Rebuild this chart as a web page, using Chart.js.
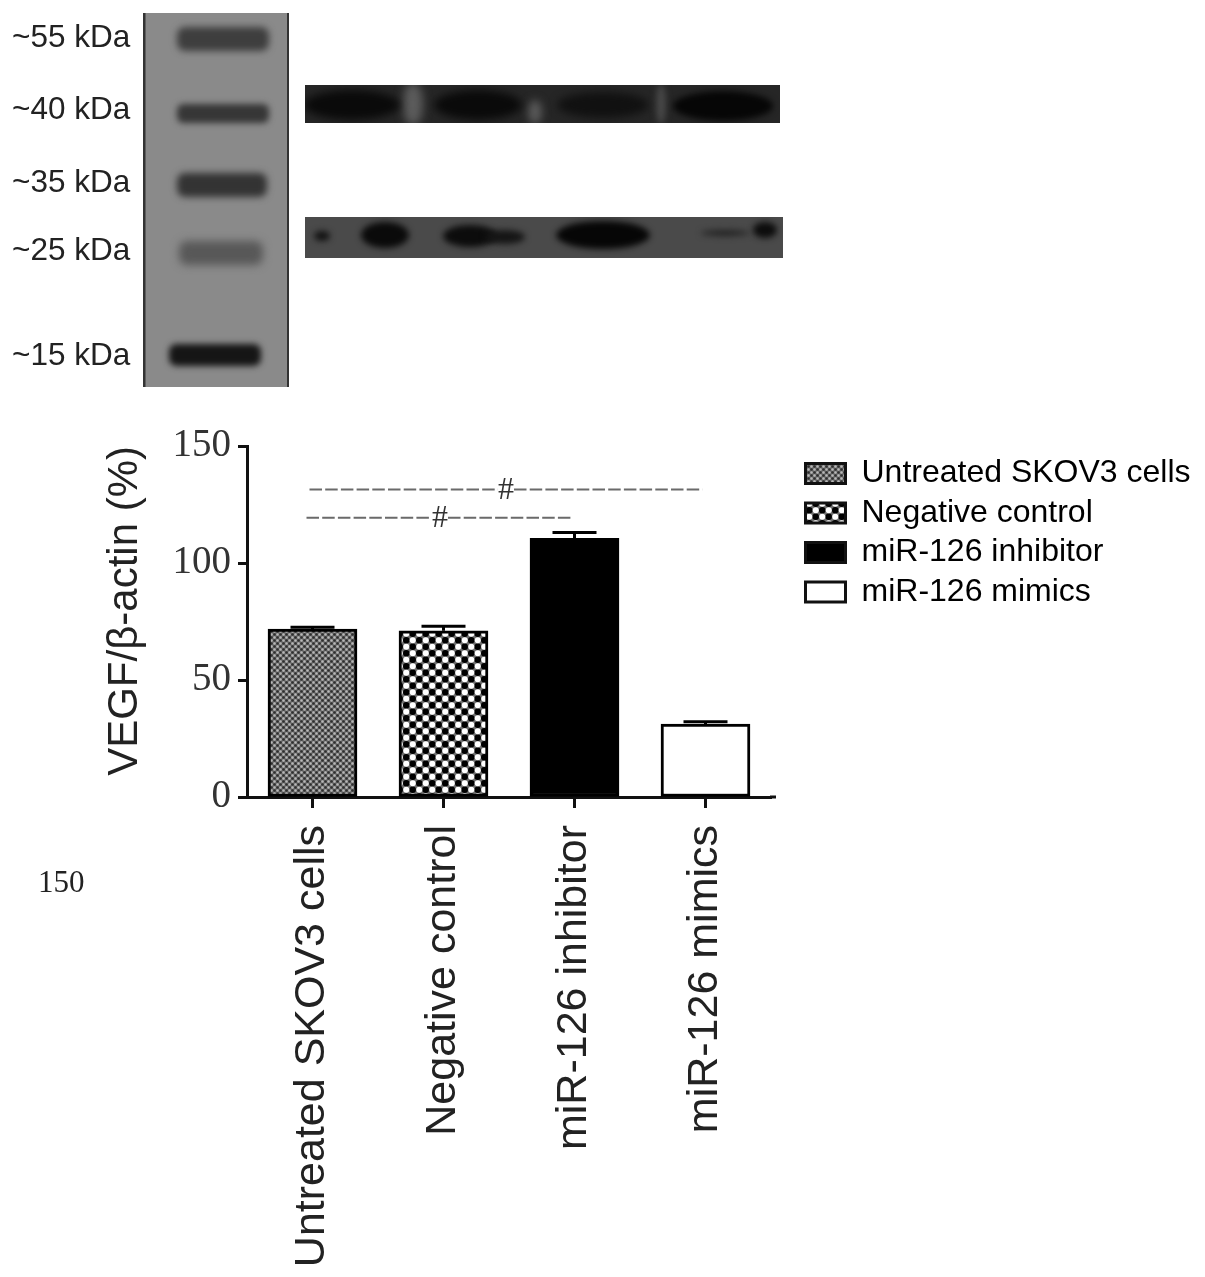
<!DOCTYPE html>
<html>
<head>
<meta charset="utf-8">
<title>VEGF western blot</title>
<script src="https://cdn.jsdelivr.net/npm/chart.js@4"></script>
<style>
  html, body { margin: 0; padding: 0; background: #fff; }
  #stage { position: relative; width: 1205px; height: 1277px; overflow: hidden; filter: blur(0.5px); }
  #stage canvas { position: absolute; left: 0; top: 0; }
  .note { position: absolute; color: #222; white-space: nowrap; line-height: 1; transform: translateY(-50%); }
  .kda { font: 31.5px "Liberation Sans", sans-serif; left: 12px; }
  .stray { font: 31px "Liberation Serif", serif; left: 38px; top: 882px; }
</style>
</head>
<body>
<div id="stage">
  <canvas id="blot" width="800" height="400"></canvas>
  <canvas id="chart" width="1205" height="1277"></canvas>
  <div class="note stray">150</div>
</div>
<script>
const categories = ['Untreated SKOV3 cells', 'Negative control', 'miR-126 inhibitor', 'miR-126 mimics'];
const means = [71.8, 71, 110.5, 31.2];
const errorTops = [72.5, 73, 113, 32.2];
const yTicks = [0, 50, 100, 150];
const sigLevels = [131.4, 119.3];
const sigFrom = [0, 0];
const sigTo = [3, 2];
const markerLabels = ['~55 kDa', '~40 kDa', '~35 kDa', '~25 kDa', '~15 kDa'];
const markerY = [36, 108, 181, 249, 354];

// --- fill patterns for the bars ---
function tile(size, paint) {
  const c = document.createElement('canvas');
  c.width = c.height = size;
  paint(c.getContext('2d'));
  return c.getContext('2d').createPattern(c, 'repeat');
}
function dot(g, x, y, r, col) {
  g.fillStyle = col;
  g.beginPath();
  g.arc(x, y, r, 0, Math.PI * 2);
  g.fill();
}
const finePattern = tile(6, g => {
  g.fillStyle = '#6e6e6e';
  g.fillRect(0, 0, 6, 6);
  dot(g, 1.5, 1.5, 1.3, '#2e2e2e');
  dot(g, 4.5, 4.5, 1.3, '#2e2e2e');
  dot(g, 4.5, 1.5, 1.2, '#b8b8b8');
  dot(g, 1.5, 4.5, 1.2, '#b8b8b8');
});
const coarsePattern = tile(13, g => {
  g.fillStyle = '#707070';
  g.fillRect(0, 0, 13, 13);
  dot(g, 3.25, 3.25, 3.2, '#000');
  dot(g, 9.75, 9.75, 3.2, '#000');
  dot(g, 9.75, 3.25, 3, '#fff');
  dot(g, 3.25, 9.75, 3, '#fff');
});
const barFills = [finePattern, coarsePattern, '#000', '#fff'];

// --- western blot panels ---
function drawBlot() {
  const g = document.getElementById('blot').getContext('2d');
  const band = (x, y, w, h, col, blur) => {
    g.filter = `blur(${blur}px)`;
    g.fillStyle = col;
    g.beginPath();
    g.roundRect(x, y, w, h, h / 3);
    g.fill();
    g.filter = 'none';
  };
  const blob = (x, y, rx, ry, col, blur) => {
    g.filter = `blur(${blur}px)`;
    g.fillStyle = col;
    g.beginPath();
    g.ellipse(x, y, rx, ry, 0, 0, Math.PI * 2);
    g.fill();
    g.filter = 'none';
  };

  // ladder
  g.fillStyle = '#8a8a8a';
  g.fillRect(143, 13, 146, 374);
  g.fillStyle = '#333';
  g.fillRect(143, 13, 2.5, 374);
  g.fillRect(287, 13, 2, 374);
  band(177, 27, 92, 24, '#3e3e3e', 3.5);
  band(177, 104, 92, 19, '#363636', 3);
  band(177, 173, 90, 24, '#333', 3.5);
  band(179, 241, 84, 24, '#585858', 4);
  band(169, 344, 92, 22, '#151515', 3);

  // upper blot
  g.save();
  g.beginPath();
  g.rect(305, 85, 475, 38);
  g.clip();
  g.fillStyle = '#262626';
  g.fillRect(305, 85, 475, 38);
  blob(413, 104, 10, 22, '#5c5c5c', 5);
  blob(535, 112, 7, 12, '#5a5a5a', 4);
  blob(661, 104, 5, 20, '#484848', 3);
  blob(352, 105, 48, 15, '#0a0a0a', 4);
  blob(478, 105, 44, 15, '#0a0a0a', 4);
  blob(603, 105, 46, 13, '#111', 4);
  blob(723, 106, 50, 15, '#060606', 3);
  g.restore();

  // lower blot
  g.save();
  g.beginPath();
  g.rect(305, 217, 478, 41);
  g.clip();
  g.fillStyle = '#4a4a4a';
  g.fillRect(305, 217, 478, 41);
  blob(322, 236, 8, 5, '#111', 3);
  blob(385, 235, 24, 13, '#0a0a0a', 3);
  blob(470, 236, 27, 11, '#0c0c0c', 3);
  blob(505, 237, 20, 7, '#151515', 3);
  blob(603, 235, 47, 14, '#060606', 3);
  blob(725, 233, 24, 3, '#222', 3);
  blob(765, 230, 12, 8, '#0c0c0c', 3);
  g.restore();
}
drawBlot();

const stage = document.getElementById('stage');
markerLabels.forEach((t, i) => {
  const d = document.createElement('div');
  d.className = 'note kda';
  d.style.top = markerY[i] + 'px';
  d.textContent = t;
  stage.appendChild(d);
});

// --- things Chart.js has no built-in for: error bars, significance lines ---
const annotations = {
  id: 'annotations',
  afterLayout(chart) {
    // legend sits further right than the layout would put it
    const legend = chart.legend;
    legend.left = chart.chartArea.right + 27;
    legend.right = chart.width;
    legend.width = legend.right - legend.left;
    legend.top = chart.chartArea.top + 4;
  },
  afterDatasetsDraw(chart) {
    const { ctx, scales: { x, y }, chartArea } = chart;
    ctx.save();

    // x axis runs a little past the last category
    ctx.strokeStyle = '#111';
    ctx.lineWidth = 3;
    ctx.beginPath();
    ctx.moveTo(chartArea.right - 1, y.getPixelForValue(0));
    ctx.lineTo(chartArea.right + 5, y.getPixelForValue(0));
    ctx.stroke();

    errorTops.forEach((top, i) => {
      const cx = x.getPixelForValue(i);
      const py = y.getPixelForValue(top);
      ctx.lineWidth = 3;
      ctx.strokeStyle = '#000';
      ctx.beginPath();
      ctx.moveTo(cx, y.getPixelForValue(means[i]));
      ctx.lineTo(cx, py);
      ctx.moveTo(cx - 22, py);
      ctx.lineTo(cx + 22, py);
      ctx.stroke();
    });

    sigLevels.forEach((level, i) => {
      const py = y.getPixelForValue(level);
      const x0 = x.getPixelForValue(sigFrom[i]) - 3 - 3 * i;
      const x1 = x.getPixelForValue(sigTo[i]) - 3 + 2 * i;
      const mid = (x0 + x1) / 2;
      ctx.strokeStyle = '#6a6a6a';
      ctx.lineWidth = 2;
      ctx.setLineDash([12.5, 3.2]);
      ctx.beginPath();
      ctx.moveTo(x0, py);
      ctx.lineTo(mid - 8, py);
      ctx.moveTo(mid + 8, py);
      ctx.lineTo(x1, py);
      ctx.stroke();
      ctx.setLineDash([]);
      ctx.fillStyle = '#333';
      ctx.font = '32px "Liberation Serif", serif';
      ctx.textAlign = 'center';
      ctx.textBaseline = 'middle';
      ctx.fillText('#', mid, py + 1);
    });
    ctx.restore();
  }
};

new Chart(document.getElementById('chart'), {
  type: 'bar',
  data: {
    labels: categories,
    datasets: [{
      data: means,
      backgroundColor: barFills,
      borderColor: '#000',
      borderWidth: 3,
      borderSkipped: false,
      barThickness: 89
    }]
  },
  plugins: [annotations],
  options: {
    responsive: false,
    animation: false,
    layout: { padding: { left: 100, right: 234, top: 446, bottom: 0 } },
    plugins: {
      tooltip: { enabled: false },
      legend: {
        position: 'right',
        align: 'start',
        maxWidth: 200,
        labels: {
          boxWidth: 40,
          boxHeight: 20,
          padding: 7.5,
          color: '#222',
          font: { family: '"Liberation Sans", sans-serif', size: 32 },
          generateLabels: () => categories.map((c, i) => ({
            text: c,
            fillStyle: barFills[i],
            strokeStyle: '#111',
            lineWidth: 3,
            index: i
          }))
        }
      }
    },
    scales: {
      x: {
        afterFit(scale) { scale.height = 480; },
        border: { color: '#111', width: 3 },
        grid: { offset: false, drawOnChartArea: false, color: '#111', tickLength: 11, tickWidth: 3 },
        ticks: {
          maxRotation: 90,
          minRotation: 90,
          padding: 17,
          color: '#222',
          font: { family: '"Liberation Sans", sans-serif', size: 43 }
        }
      },
      y: {
        min: 0,
        max: 150,
        afterFit(scale) { scale.width = 147; },
        afterBuildTicks(scale) { scale.ticks = yTicks.map(v => ({ value: v })); },
        border: { color: '#111', width: 3 },
        grid: { drawOnChartArea: false, color: '#111', tickLength: 9, tickWidth: 3 },
        title: {
          display: true,
          text: 'VEGF/β-actin (%)',
          align: 'end',
          color: '#222',
          padding: 0,
          font: { family: '"Liberation Sans", sans-serif', size: 42 }
        },
        ticks: {
          padding: 7,
          color: '#333',
          font: { family: '"Liberation Serif", serif', size: 39 }
        }
      }
    }
  }
});
</script>
</body>
</html>
